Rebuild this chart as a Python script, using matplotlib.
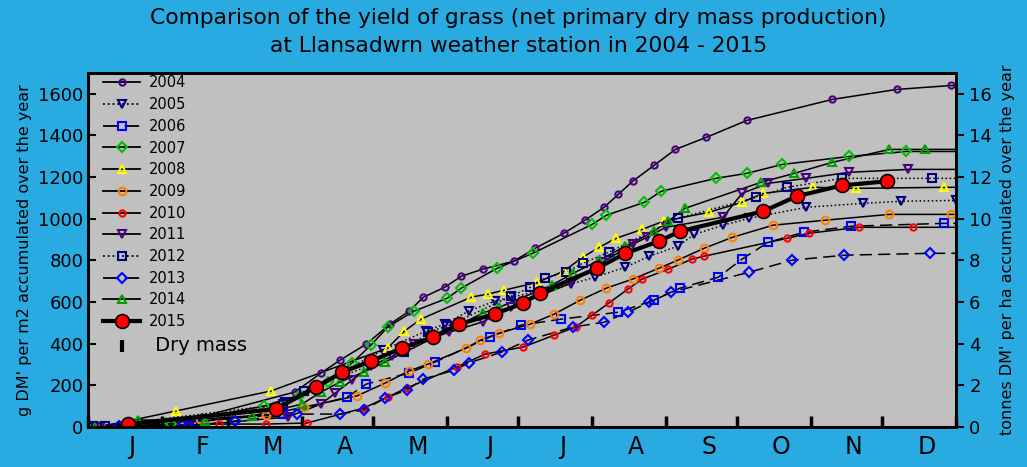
import numpy as np
import matplotlib.pyplot as plt
from matplotlib.lines import Line2D

# day of year, accumulated g DM per m2
d2004 = [3, 48, 87, 98, 106, 117, 127, 135, 141, 150, 157, 166, 179, 188, 200, 209, 217, 223, 229, 238, 247, 260, 277, 313, 340, 363]
v2004 = [0, 50, 168, 259, 321, 398, 494, 556, 623, 671, 724, 758, 796, 858, 930, 993, 1055, 1117, 1180, 1256, 1333, 1391, 1472, 1573, 1621, 1640]
d2005 = [3, 45, 83, 124, 142, 150, 160, 171, 178, 203, 213, 226, 236, 248, 255, 267, 278, 302, 326, 342, 365]
v2005 = [0, 15, 120, 369, 460, 494, 556, 604, 623, 686, 719, 767, 820, 868, 925, 969, 1002, 1055, 1074, 1084, 1088]
d2006 = [2, 7, 40, 82, 109, 117, 135, 146, 169, 182, 199, 223, 238, 249, 265, 275, 286, 301, 321, 360]
v2006 = [5, 5, 20, 62, 144, 206, 259, 312, 432, 489, 518, 551, 609, 667, 719, 806, 887, 935, 964, 978]
d2007 = [5, 35, 74, 89, 101, 111, 119, 126, 137, 151, 157, 172, 187, 212, 218, 234, 241, 264, 277, 292, 320, 344]
v2007 = [0, 15, 101, 153, 216, 307, 393, 480, 556, 618, 667, 762, 834, 973, 1017, 1079, 1132, 1194, 1218, 1261, 1299, 1323]
d2008 = [5, 37, 77, 126, 133, 140, 161, 168, 175, 189, 200, 208, 215, 222, 233, 242, 261, 275, 284, 305, 323, 360]
v2008 = [0, 77, 173, 379, 460, 518, 623, 638, 657, 695, 748, 815, 863, 906, 949, 988, 1031, 1079, 1122, 1151, 1146, 1151]
d2009 = [5, 47, 75, 91, 113, 125, 135, 143, 159, 165, 173, 186, 196, 207, 218, 229, 240, 248, 259, 271, 288, 310, 337, 363]
v2009 = [0, 38, 58, 96, 149, 211, 269, 302, 379, 417, 451, 494, 542, 609, 667, 710, 762, 801, 858, 911, 969, 993, 1021, 1021]
d2010 = [5, 55, 75, 92, 116, 126, 134, 155, 167, 183, 196, 205, 212, 219, 227, 233, 244, 254, 259, 294, 303, 324, 347]
v2010 = [0, 14, 14, 19, 91, 144, 187, 288, 350, 384, 441, 480, 537, 595, 662, 710, 758, 806, 820, 906, 930, 959, 959]
d2011 = [5, 42, 84, 98, 104, 111, 119, 128, 137, 152, 166, 178, 203, 216, 229, 235, 243, 267, 275, 286, 302, 320, 345]
v2011 = [0, 5, 48, 110, 163, 225, 292, 340, 398, 455, 505, 575, 690, 790, 877, 911, 959, 1007, 1122, 1170, 1194, 1223, 1237]
d2012 = [2, 7, 82, 91, 133, 143, 151, 178, 186, 192, 201, 208, 219, 248, 281, 294, 317, 355]
v2012 = [5, 5, 110, 173, 360, 456, 484, 628, 671, 714, 743, 786, 839, 1002, 1103, 1151, 1194, 1194]
d2013 = [13, 42, 62, 88, 106, 116, 125, 134, 141, 154, 160, 174, 185, 204, 217, 227, 236, 245, 278, 296, 318, 354]
v2013 = [5, 5, 29, 62, 62, 82, 139, 177, 230, 273, 307, 360, 417, 480, 503, 551, 599, 647, 743, 801, 825, 834]
d2014 = [3, 21, 49, 69, 90, 98, 106, 116, 125, 166, 173, 195, 204, 215, 226, 238, 244, 251, 283, 297, 313, 337, 352]
v2014 = [0, 34, 29, 53, 110, 168, 216, 264, 312, 547, 575, 681, 738, 801, 868, 940, 988, 1050, 1175, 1218, 1271, 1333, 1333]
d2015 = [17, 79, 96, 107, 119, 132, 145, 156, 171, 183, 190, 214, 226, 240, 249, 284, 298, 317, 336]
v2015 = [14, 86, 192, 264, 316, 379, 432, 494, 542, 595, 643, 762, 834, 892, 940, 1036, 1108, 1160, 1180]

months = ['J', 'F', 'M', 'A', 'M', 'J', 'J', 'A', 'S', 'O', 'N', 'D']
month_len = [31, 28, 31, 30, 31, 30, 31, 31, 30, 31, 30, 31]

series = [
    ('2004', d2004, v2004, 'o', '#4B0082', '-', 4.5),
    ('2005', d2005, v2005, 'v', '#000080', ':', 5.5),
    ('2006', d2006, v2006, 's', '#0000FF', (0, (8, 4)), 5.5),
    ('2007', d2007, v2007, 'D', '#00C000', '-', 5.5),
    ('2008', d2008, v2008, '^', '#FFFF00', '-', 5.5),
    ('2009', d2009, v2009, 'o', '#FF8000', '-', 5.5),
    ('2010', d2010, v2010, 'o', '#FF0000', '-', 4.5),
    ('2011', d2011, v2011, 'v', '#4B0082', '-', 5.5),
    ('2012', d2012, v2012, 's', '#000080', ':', 5.5),
    ('2013', d2013, v2013, 'D', '#0000FF', (0, (8, 4)), 5.5),
    ('2014', d2014, v2014, '^', '#00A000', '-', 5.5),
]

fig = plt.figure(figsize=(10.27, 4.67), dpi=100, facecolor='#29ABE2')
ax = fig.add_axes([0.0857, 0.0857, 0.8452, 0.758])
ax.set_facecolor('#C0C0C0')

handles = []
for name, d, v, mk, col, ls, ms in series:
    # line runs on to the end of the year at the last value
    ax.plot(d + [365], v + [v[-1]], color='black', lw=1.1, ls=ls, zorder=2)
    ax.plot(d, v, ls='none', marker=mk, ms=ms, mfc='none', mec=col, mew=1.5, zorder=3)
    handles.append(Line2D([], [], color='black', lw=1.3, ls=ls, marker=mk, ms=ms,
                          mfc='none', mec=col, mew=1.5, label=name))

ax.plot(d2015, v2015, color='black', lw=3, marker='o', ms=10, mfc='#FF0000',
        mec='black', mew=1.2, zorder=4)
handles.append(Line2D([], [], color='black', lw=3, marker='o', ms=10, mfc='#FF0000',
                      mec='black', mew=1.2, label='2015'))
handles.append(Line2D([], [], ls='none', marker='|', ms=9, mew=3, color='black',
                      label=' Dry mass'))

ax.set_xlim(0, 365)
ax.set_ylim(0, 1700)

starts = np.concatenate([[0], np.cumsum(month_len)])
ax.set_xticks(starts)
ax.set_xticklabels([])
ax.set_xticks(starts[:-1] + np.array(month_len) / 2 + 3, minor=True)
ax.set_xticklabels(months, minor=True, fontsize=17)
ax.tick_params(axis='x', which='major', direction='in', length=8, width=2.5)
ax.tick_params(axis='x', which='minor', length=0, pad=6)

ax.set_yticks(np.arange(0, 1601, 200))
ax.tick_params(axis='y', direction='in', length=6, width=1.5, labelsize=13)
ax.set_ylabel("g DM' per m2 accumulated over the year", fontsize=11.5, labelpad=4)

ax2 = ax.twinx()
ax2.set_ylim(0, 17)
ax2.set_yticks(np.arange(0, 17, 2))
ax2.tick_params(axis='y', direction='out', length=6, width=1.5, labelsize=13)
ax2.set_ylabel("tonnes DM' per ha accumulated over the year", fontsize=11.5, labelpad=6)

for a in (ax, ax2):
    for s in a.spines.values():
        s.set_linewidth(2)

leg = ax.legend(handles=handles, loc='upper left', bbox_to_anchor=(0.005, 1.022),
                frameon=False, fontsize=10.5, handlelength=2.6, labelspacing=0.46,
                borderaxespad=0.3, handletextpad=0.6)
leg.get_texts()[-1].set_fontsize(14)

fig.suptitle('Comparison of the yield of grass (net primary dry mass production)\n'
             'at Llansadwrn weather station in 2004 - 2015', fontsize=15.7, y=0.982,
             x=0.505, linespacing=1.45)

fig.savefig('out.png', dpi=100, facecolor=fig.get_facecolor())
